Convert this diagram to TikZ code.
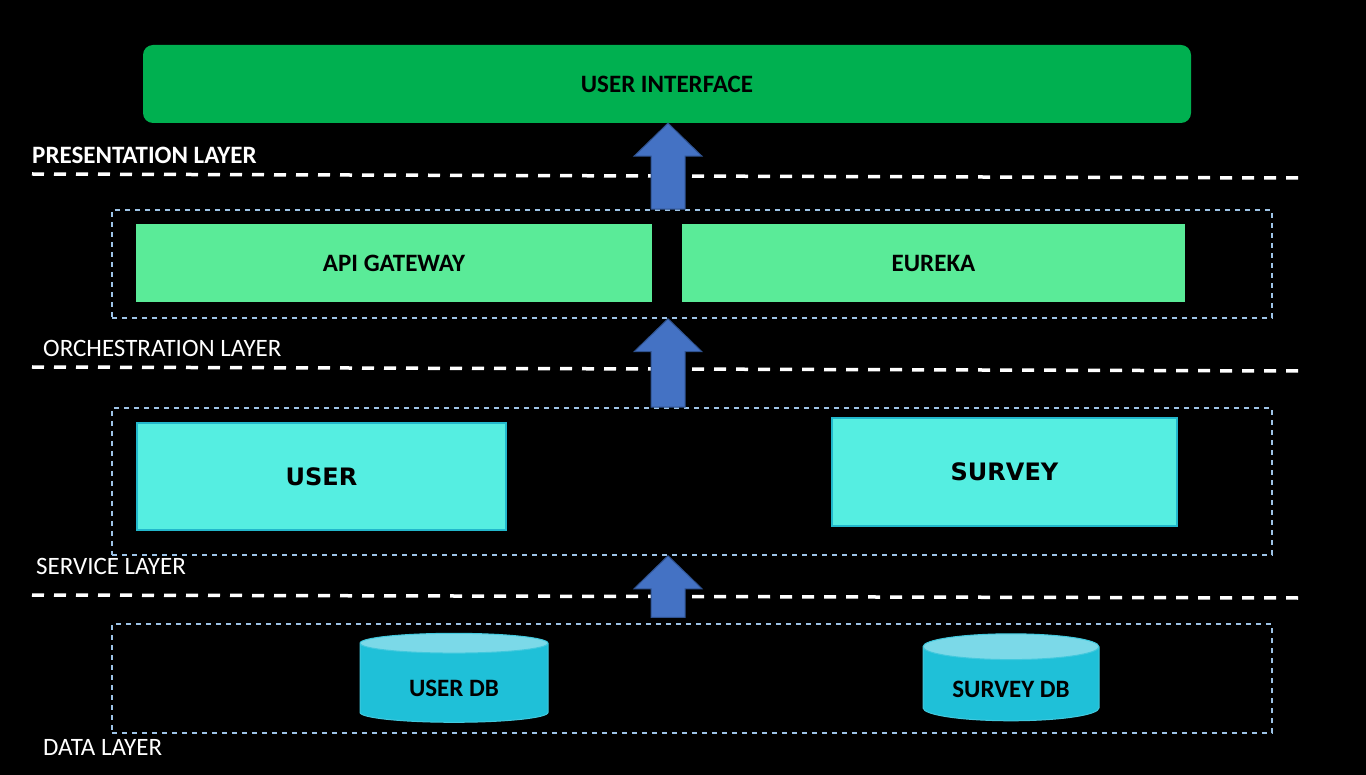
\documentclass[tikz,border=0pt]{standalone}
\usepackage{fontspec}
\setmainfont{Carlito}
\newfontfamily\svcfont{DejaVu Sans}
\usetikzlibrary{calc,shapes.geometric}

\definecolor{uigreen}{HTML}{00B050}
\definecolor{orchgreen}{HTML}{5AEB98}
\definecolor{svccyan}{HTML}{55EEE1}
\definecolor{svcedge}{HTML}{22B8CC}
\definecolor{dbbody}{HTML}{1FC0D8}
\definecolor{dbtop}{HTML}{7BD9E8}
\definecolor{arrowblue}{HTML}{4472C4}
\definecolor{arrowedge}{HTML}{2F528F}
\definecolor{boxedge}{HTML}{9DC3E6}

\tikzset{
  layerbox/.style={draw=boxedge, line width=1.5pt, dash pattern=on 5pt off 5pt, inner sep=0pt},
  layerline/.style={draw=white, line width=3.5pt, dash pattern=on 12pt off 10pt},
  layerlabel/.style={text=white, anchor=west, inner sep=0pt, font=\fontsize{25}{30}\selectfont},
  orchbox/.style={fill=orchgreen, inner sep=0pt, font=\fontsize{25}{30}\selectfont\bfseries},
  svcbox/.style={fill=svccyan, draw=svcedge, line width=1.5pt, inner sep=0pt, font=\svcfont\fontsize{24}{28}\selectfont\bfseries},
  dbcyl/.style={cylinder, shape border rotate=90, aspect=0.22, draw=dbbody!85!white, line width=1pt,
    cylinder uses custom fill, cylinder end fill=dbtop, cylinder body fill=dbbody,
    inner sep=0pt, text height=26pt, text depth=0pt, font=\fontsize{25}{30}\selectfont\bfseries},
  blockarrow/.style={fill=arrowblue, draw=arrowedge, line width=1pt}
}

% block arrow from anchor #1 (bottom) up to anchor #2 (tip)
\newcommand\layerarrow[2]{%
  \path[blockarrow] let \p1=(#1), \p2=(#2) in
    (651pt,\y1) -- (651pt,\y2-33pt) -- (634pt,\y2-33pt) -- (668pt,\y2)
    -- (702pt,\y2-33pt) -- (685pt,\y2-33pt) -- (685pt,\y1) -- cycle;}

\begin{document}
\begin{tikzpicture}[x=1pt, y=-1pt]
  %%%%% BACKGROUND %%%%%
  \fill[black] (0,0) rectangle (1366,775);
  \useasboundingbox (0,0) rectangle (1366,775);

  %%%%% PRESENTATION %%%%%
  \node[fill=uigreen, rounded corners=10pt, minimum width=1048, minimum height=78, inner sep=0pt,
    font=\fontsize{25}{30}\selectfont\bfseries] (ui) at (667,84) {USER INTERFACE};
  \node[layerlabel, font=\fontsize{25}{30}\selectfont\bfseries] (presl) at (32,155) {PRESENTATION LAYER};
  \draw[layerline] (32,174) -- (1298,178);

  %%%%% ORCHESTRATION %%%%%
  \node[layerbox, minimum width=1160, minimum height=108] (orch) at (692,264) {};
  \node[orchbox, minimum width=516, minimum height=78] (api) at (394,263) {API GATEWAY};
  \node[orchbox, minimum width=503, minimum height=78] (eureka) at (933.5,263) {EUREKA};
  \node[layerlabel] (orchl) at (43,348) {ORCHESTRATION LAYER};
  \draw[layerline] (32,367) -- (1298,371);

  %%%%% SERVICE %%%%%
  \node[layerbox, minimum width=1160, minimum height=147] (svc) at (692,481.5) {};
  \node[svcbox, minimum width=369, minimum height=107] (user) at (321.5,476.5) {USER};
  \node[svcbox, minimum width=345, minimum height=108] (survey) at (1004.5,472) {SURVEY};
  \node[layerlabel] (svcl) at (36,566) {SERVICE LAYER};
  \draw[layerline] (32,595) -- (1298,598);

  %%%%% DATA %%%%%
  \node[layerbox, minimum width=1160, minimum height=109] (data) at (692,678.5) {};
  \node[dbcyl, minimum width=188, minimum height=89] (userdb) at (454,683) {USER DB};
  \node[dbcyl, minimum width=176, minimum height=87] (surveydb) at (1011,684) {SURVEY DB};
  \node[layerlabel] (datal) at (43,747) {DATA LAYER};

  %%%%% ARROWS %%%%%
  \layerarrow{orch.north}{ui.south}
  \layerarrow{svc.north}{orch.south}
  \layerarrow{$(data.north)+(0,-6)$}{svc.south}
\end{tikzpicture}
\end{document}
